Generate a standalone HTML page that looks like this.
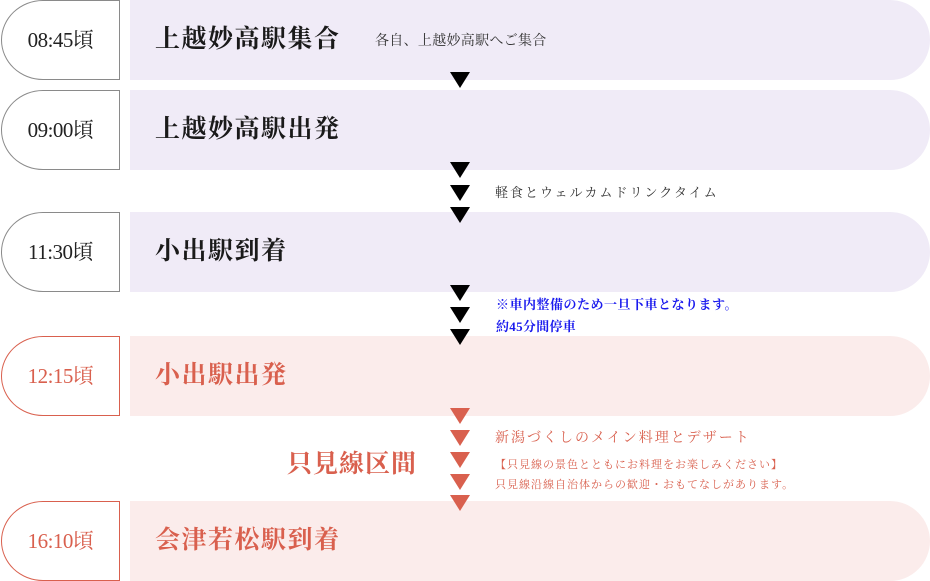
<!DOCTYPE html>
<html><head><meta charset="utf-8"><style>
*{margin:0;padding:0;box-sizing:border-box}
body{width:930px;height:581px;background:#fff;position:relative;overflow:hidden;font-family:"Liberation Serif","Noto Serif CJK SC",serif}
.t{position:absolute;left:1px;width:119px;height:80px;border:1px solid #8a8a8a;border-radius:42px 0 0 42px/40px 0 0 40px;font-size:21px;line-height:78px;text-align:center;color:#222;letter-spacing:-0.5px}
.t.r{border-color:#d9604e;color:#d9604e}
.b{position:absolute;left:130px;width:800px;height:80px;border-radius:0 40px 40px 0;background:#f0ebf7}
.b.r{background:#fbeceb}
.h{position:absolute;left:155px;font-size:25px;font-weight:bold;color:#1a1a1a;line-height:80px;letter-spacing:1.5px}
.h.r{color:#d9604e}
.a{position:absolute;left:450px;width:0;height:0;border-left:10px solid transparent;border-right:10px solid transparent;border-top:16px solid #000}
.a.r{border-top-color:#d9604e}
.s{position:absolute;font-size:13px;letter-spacing:2px;color:#333;white-space:nowrap}
</style></head><body>
<div class="b" style="top:0"></div><div class="t" style="top:0">08:45頃</div>
<div class="h" style="top:0">上越妙高駅集合</div>
<div class="s" style="left:375px;top:30px;font-size:14px;letter-spacing:0.3px">各自、上越妙高駅へご集合</div>

<div class="b" style="top:90px"></div><div class="t" style="top:90px">09:00頃</div>
<div class="h" style="top:90px">上越妙高駅出発</div>

<div class="b" style="top:212px"></div><div class="t" style="top:212px">11:30頃</div>
<div class="h" style="top:212px">小出駅到着</div>

<div class="b r" style="top:336px"></div><div class="t r" style="top:336px">12:15頃</div>
<div class="h r" style="top:336px">小出駅出発</div>

<div class="b r" style="top:501px"></div><div class="t r" style="top:501px">16:10頃</div>
<div class="h r" style="top:501px">会津若松駅到着</div>

<div class="a" style="top:72px"></div>
<div class="a" style="top:162px"></div>
<div class="a" style="top:185px"></div>
<div class="a" style="top:207px"></div>
<div class="a" style="top:285px"></div>
<div class="a" style="top:307px"></div>
<div class="a" style="top:329px"></div>
<div class="a r" style="top:408px"></div>
<div class="a r" style="top:430px"></div>
<div class="a r" style="top:452px"></div>
<div class="a r" style="top:474px"></div>
<div class="a r" style="top:495px"></div>

<div class="s" style="left:495px;top:182px">軽食とウェルカムドリンクタイム</div>
<div class="s" style="left:496px;top:294px;color:#1a1aee;font-weight:bold;letter-spacing:0.5px;font-size:13px">※車内整備のため一旦下車となります。</div>
<div class="s" style="left:496px;top:316px;color:#1a1aee;font-weight:bold;letter-spacing:0.3px;font-size:13px">約45分間停車</div>
<div class="s" style="left:495px;top:427px;color:#d9604e;font-size:14px">新潟づくしのメイン料理とデザート</div>
<div class="s" style="left:495px;top:456px;color:#d9604e;font-size:11px;letter-spacing:1px">【只見線の景色とともにお料理をお楽しみください】</div>
<div class="s" style="left:495px;top:476px;color:#d9604e;font-size:11px;letter-spacing:1px">只見線沿線自治体からの歓迎・おもてなしがあります。</div>
<div class="s" style="left:287px;top:444px;color:#d9604e;font-size:25px;font-weight:bold;letter-spacing:1px">只見線区間</div>
</body></html>
